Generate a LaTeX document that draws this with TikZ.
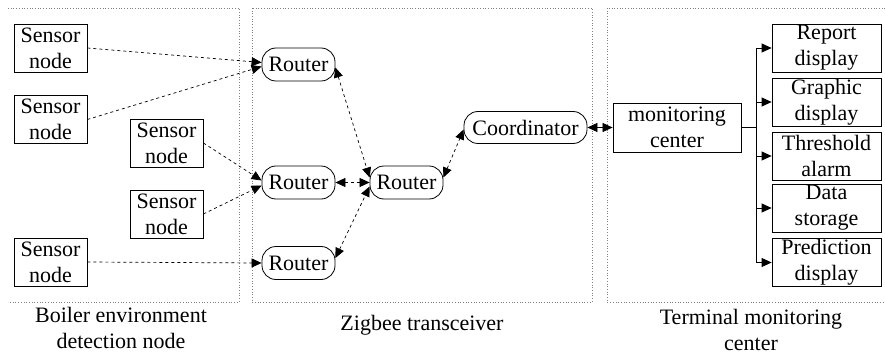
\documentclass[tikz,border=0pt]{standalone}
\usepackage{fontspec}
\setmainfont{Liberation Serif}[Ligatures=TeX]
\newfontfamily\diagfont{Liberation Serif}
\usetikzlibrary{arrows.meta}

\begin{document}
\begin{tikzpicture}[x=1pt,y=-1pt,
  every node/.style={font=\diagfont\fontsize{22}{26}\selectfont, inner sep=0pt, align=center},
  sbox/.style={draw, line width=0.8pt, minimum width=73pt, minimum height=48pt},
  rbox/.style={draw, line width=0.8pt, rounded corners=14pt, minimum width=73pt, minimum height=33pt},
  tbox/.style={draw, line width=0.8pt, minimum width=109pt, minimum height=48pt},
  frame/.style={draw=gray, dotted, line width=0.7pt},
  tip/.tip={Triangle[length=10pt,width=9pt]},
  link/.style={dashed, line width=0.7pt, -tip},
  dlink/.style={dashed, line width=0.7pt, tip-tip},
  feed/.style={line width=0.8pt, -tip}
]
\useasboundingbox (0,0) rectangle (885,358);

% group frames
\draw[frame] (8,8) -- (239,8) -- (239,302) -- (8,302);
\draw[frame] (252,8) rectangle (592,302);
\draw[frame] (885,8) -- (607,8) -- (607,302) -- (885,302);

% sensor nodes
\node[sbox] (s1) at (50.5,48)    {Sensor\\node};
\node[sbox] (s2) at (50.5,119.5) {Sensor\\node};
\node[sbox] (s3) at (166.5,143)  {Sensor\\node};
\node[sbox] (s4) at (166.5,214)  {Sensor\\node};
\node[sbox] (s5) at (50.5,262)   {Sensor\\node};

% zigbee routers and coordinator
\node[rbox] (r1) at (298.5,64.5)  {Router};
\node[rbox] (r2) at (298.5,182.5) {Router};
\node[rbox] (r3) at (406.5,182.5) {Router};
\node[rbox] (r4) at (298.5,263)   {Router};
\node[rbox, minimum width=123pt, minimum height=32pt] (co) at (525.5,127.5) {Coordinator};

% terminal side
\node[draw, line width=0.8pt, minimum width=128pt, minimum height=49pt] (mc) at (677,127.5) {monitoring\\center};
\node[tbox] (t1) at (826.5,48)    {Report\\display};
\node[tbox] (t2) at (826.5,102)   {Graphic\\display};
\node[tbox] (t3) at (826.5,156)   {Threshold\\alarm};
\node[tbox] (t4) at (826.5,208)   {Data\\storage};
\node[tbox] (t5) at (826.5,262.5) {Prediction\\display};

% group captions
\node (cap1) at (121,328) {Boiler environment\\detection node};
\node (cap2) at (422,325) {Zigbee transceiver};
\node (cap3) at (751,330) {Terminal monitoring\\center};

% sensor links
\draw[link] (s1.east) -- ([yshift=2pt]r1.west);
\draw[link] (s2.east) -- ([yshift=-2pt]r1.west);
\draw[link] (s3.east) -- ([yshift=2pt]r2.west);
\draw[link] (s4.east) -- ([yshift=-3pt]r2.west);
\draw[link] (s5.east) -- (r4.west);

% router mesh
\draw[dlink] ([yshift=-3pt]r1.east) -- ([yshift=5pt]r3.west);
\draw[dlink] (r2.east) -- (r3.west);
\draw[dlink] ([yshift=5pt]r4.east) -- ([yshift=-4pt]r3.west);
\draw[dlink] ([yshift=5pt]r3.east) -- ([yshift=-2pt]co.west);
\draw[line width=0.7pt, tip-tip] (co.east) -- (mc.west);

% distribution bus
\coordinate (j) at (756,127.5);
\draw[line width=0.8pt] (mc.east) -- (j);
\draw[line width=0.8pt] (j |- t1.west) -- (j |- t5.west);
\foreach \t in {t1,t2,t3,t4,t5}
  \draw[feed] (j |- \t.west) -- (\t.west);
\end{tikzpicture}
\end{document}
